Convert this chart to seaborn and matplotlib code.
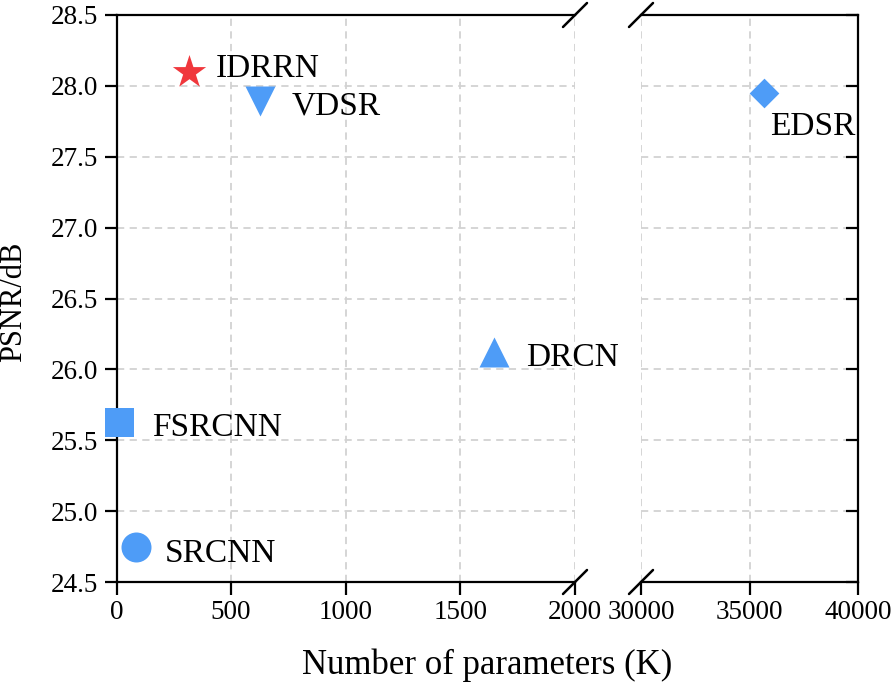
import matplotlib
matplotlib.use("Agg")
import matplotlib.pyplot as plt
import seaborn as sns
import pandas as pd

# ---- data ----
models = ["SRCNN", "FSRCNN", "VDSR", "DRCN", "IDRRN", "EDSR"]
params_k = [84, 12, 626, 1648, 318, 35650]
psnr = [24.75, 25.63, 27.89, 26.12, 28.095, 27.95]
markers = ["o", "s", "v", "^", "*", "D"]
colors = ["#4E9CF7", "#4E9CF7", "#4E9CF7", "#4E9CF7", "#F0373C", "#4E9CF7"]
marker_px = [30, 29, 30, 30, 35, 21]
label_offsets = [(29, -15), (33, -14), (32, -13), (32, -14), (26, -5), (6, -42)]
left_ticks = [0, 500, 1000, 1500, 2000]
right_ticks = [30000, 35000, 40000]
y_ticks = [24.5, 25.0, 25.5, 26.0, 26.5, 27.0, 27.5, 28.0, 28.5]

df = pd.DataFrame({"model": models, "params": params_k, "psnr": psnr})

sns.set_style("ticks")
plt.rcParams["font.family"] = ["Liberation Serif", "DejaVu Serif"]
for k in ["text.color", "axes.labelcolor", "xtick.color", "ytick.color", "axes.edgecolor"]:
    plt.rcParams[k] = "black"

W, H = 894, 688
fig = plt.figure(figsize=(W / 100, H / 100), dpi=100)
top, bot = 15, 582
axL = fig.add_axes([116.5 / W, (H - bot) / H, (575 - 116.5) / W, (bot - top) / H])
axR = fig.add_axes([641 / W, (H - bot) / H, (858 - 641) / W, (bot - top) / H])

for ax in (axL, axR):
    ax.set_ylim(24.5, 28.5)
    ax.set_yticks(y_ticks)
    ax.grid(True, linestyle=(0, (4, 3)), color="#d2d2d2", linewidth=1.3)
    ax.set_axisbelow(True)
    for s in ax.spines.values():
        s.set_linewidth(1.6)
        s.set_color("black")

axL.set_xlim(0, 2000)
axR.set_xlim(30000, 40000)
axL.set_xticks(left_ticks)
axR.set_xticks(right_ticks)
axL.spines["right"].set_visible(False)
axR.spines["left"].set_visible(False)

axL.tick_params(axis="both", direction="out", length=9, width=1.6, labelsize=19.5, pad=4)
axL.set_yticklabels([f"{v:.1f}" for v in y_ticks])
axR.tick_params(axis="x", direction="out", length=9, width=1.6, labelsize=19.5, pad=4)
axR.tick_params(axis="y", direction="in", length=9, width=1.6, left=False, labelleft=False,
                right=True, labelright=False)

for i, m in enumerate(models):
    ax = axR if params_k[i] > 2000 else axL
    sub = df[df["model"] == m]
    sns.scatterplot(data=sub, x="params", y="psnr", ax=ax, marker=markers[i],
                    color=colors[i], s=(marker_px[i] * 0.72) ** 2, linewidth=0,
                    clip_on=False, zorder=5, legend=False)
    ax.annotate(m, (params_k[i], psnr[i]), xytext=label_offsets[i],
                textcoords="offset pixels", fontsize=24, ha="left", va="baseline",
                color="black", zorder=6)

axL.set_xlabel("")
axR.set_xlabel("")
axR.set_ylabel("")
axL.set_ylabel("")

fig.text(14 / W, (H - 302) / H, "PSNR/dB", fontsize=22, rotation=90,
         ha="center", va="center")

# break marks
d = 12
def slash(ax, xa, ya):
    x0, y0 = ax.transAxes.transform((xa, ya))
    inv = fig.transFigure.inverted()
    p1 = inv.transform((x0 - d, y0 - d))
    p2 = inv.transform((x0 + d, y0 + d))
    fig.add_artist(plt.Line2D([p1[0], p2[0]], [p1[1], p2[1]], color="black", lw=1.8,
                              transform=fig.transFigure))

slash(axL, 1, 0)
slash(axL, 1, 1)
slash(axR, 0, 0)
slash(axR, 0, 1)

fig.text(487 / W, (H - 665) / H, "Number of parameters (K)", fontsize=25,
         ha="center", va="center")

fig.savefig("out.png", dpi=100)
